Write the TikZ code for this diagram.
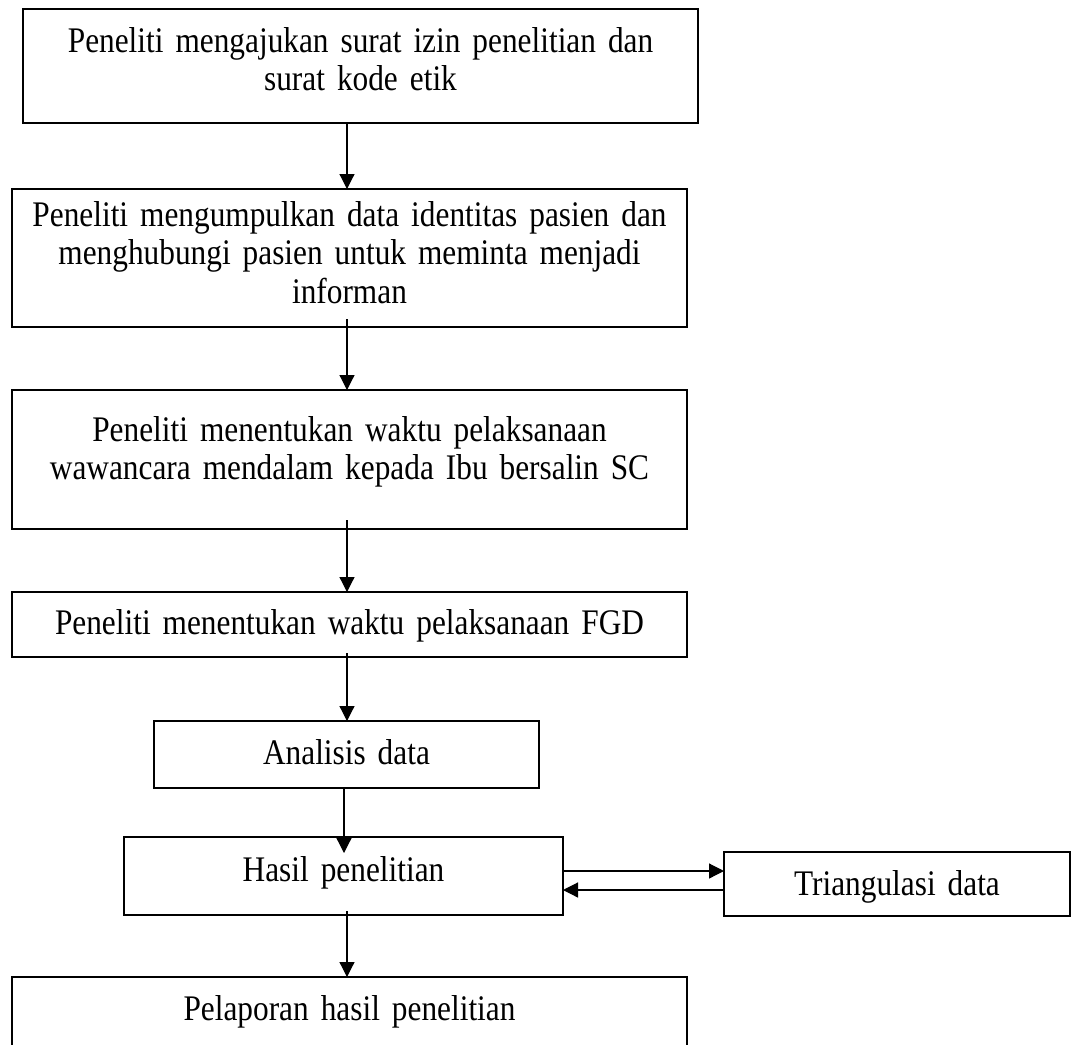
\documentclass[tikz,border=0pt]{standalone}
\usepackage{fontspec}
\setmainfont[FakeStretch=0.87]{Liberation Serif}
\usetikzlibrary{arrows.meta}
% narrower interword space for the box texts
\newcommand\tightwords{\spaceskip 6pt plus 2pt minus 1pt\relax}

\begin{document}
\begin{tikzpicture}[x=1pt,y=-1pt,
  box/.style={draw, line width=2pt, inner sep=0pt, outer sep=0pt},
  txt/.style={align=center, inner sep=0pt, anchor=base,
              font=\fontsize{36}{38.5}\selectfont\tightwords},
  arr/.style={line width=1.2pt, -{Triangle[length=15pt,width=15pt]}}]

  \useasboundingbox (0,0) rectangle (1072,1045);

  % process boxes
  \node[box, minimum width=675pt, minimum height=114pt] (b1) at (360.5,66) {};
  \node[box, minimum width=675pt, minimum height=138pt] (b2) at (349.5,258) {};
  \node[box, minimum width=675pt, minimum height=139pt] (b3) at (349.5,459.5) {};
  \node[box, minimum width=675pt, minimum height=65pt]  (b4) at (349.5,624.5) {};
  \node[box, minimum width=385pt, minimum height=67pt]  (b5) at (346.5,754.5) {};
  \node[box, minimum width=439pt, minimum height=78pt]  (b6) at (343.5,876) {};
  \node[box, minimum width=346pt, minimum height=64pt]  (tri) at (897,884) {};
  \node[box, minimum width=675pt, minimum height=90pt]  (b7) at (349.5,1022) {};

  % box texts
  \node[txt, text width=670pt] (t1) at (360.5,52)
    {Peneliti mengajukan surat izin penelitian dan\\surat kode etik};
  \node[txt, text width=670pt] (t2) at (349.5,226)
    {Peneliti mengumpulkan data identitas pasien dan\\menghubungi pasien untuk meminta menjadi\\informan};
  \node[txt, text width=670pt] (t3) at (349.5,441)
    {Peneliti menentukan waktu pelaksanaan\\wawancara mendalam kepada Ibu bersalin SC};
  \node[txt, text width=670pt] (t4) at (349.5,634)
    {Peneliti menentukan waktu pelaksanaan FGD};
  \node[txt, text width=380pt] (t5) at (346.5,764) {Analisis data};
  \node[txt, text width=430pt] (t6) at (343.5,881) {Hasil penelitian};
  \node[txt, text width=340pt] (t8) at (897,895) {Triangulasi data};
  \node[txt, text width=670pt] (t7) at (349.5,1020) {Pelaporan hasil penelitian};

  % columns and rows of the connectors
  \coordinate (ax) at (347,0);
  \coordinate (ay) at (344,0);
  \coordinate (r1) at (0,871);
  \coordinate (r2) at (0,890);

  % vertical flow
  \draw[arr] (b1.south -| ax) -- (b2.north -| ax);
  \draw[arr] ([yshift=8pt]b2.south -| ax) -- (b3.north -| ax);
  \draw[arr] ([yshift=9pt]b3.south -| ax) -- (b4.north -| ax);
  \draw[arr] ([yshift=4pt]b4.south -| ax) -- (b5.north -| ax);
  \draw[arr] (b5.south -| ay) -- ([yshift=-16pt]b6.north -| ay);
  \draw[arr] ([yshift=4pt]b6.south -| ax) -- (b7.north -| ax);

  % exchange with data triangulation
  \draw[arr] (b6.east |- r1) -- (tri.west |- r1);
  \draw[arr] (tri.west |- r2) -- (b6.east |- r2);
\end{tikzpicture}
\end{document}
